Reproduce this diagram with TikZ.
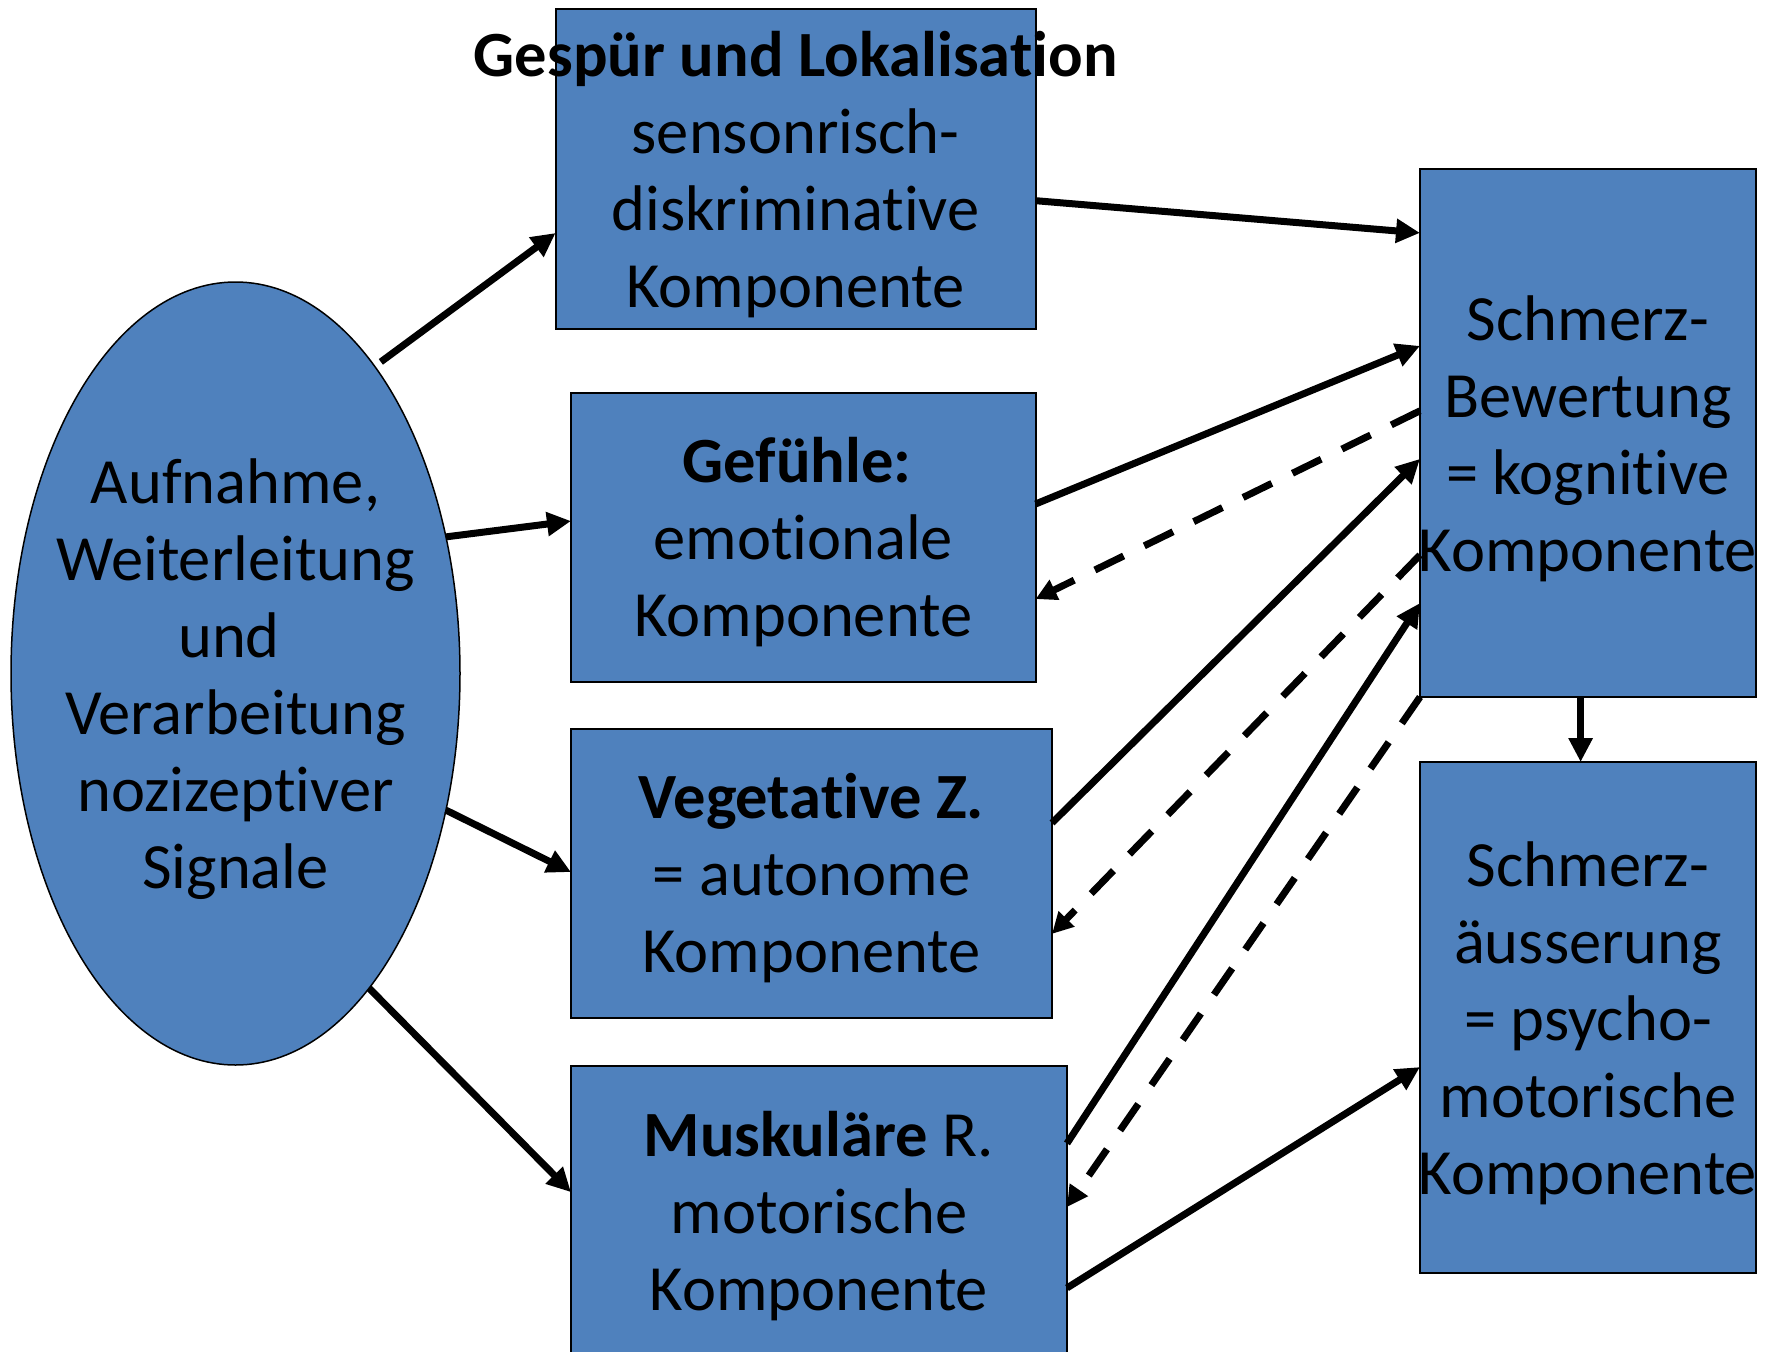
\documentclass[tikz,border=0pt]{standalone}
\usepackage{fontspec}
\setmainfont{Carlito}[Ligatures=NoCommon]
\usetikzlibrary{arrows.meta,calc,shapes.geometric}
\definecolor{boxblue}{HTML}{4F81BD}
\begin{document}
\begin{tikzpicture}[x=1pt,y=-1pt,
  box/.style={draw=black,line width=1.8pt,fill=boxblue,inner sep=0pt,outer sep=0pt},
  txt/.style={inner sep=0pt,outer sep=0pt,align=center,font=\fontsize{64.5}{77}\selectfont},
  sol/.style={line width=7pt,-{Triangle[length=24pt,width=23pt]}},
  dsh/.style={line width=7pt,dash pattern=on 32pt off 23pt,-{Triangle[length=21pt,width=21pt]}},
]
\useasboundingbox (0,0) rectangle (1767,1352);
\node[draw=black,fill=boxblue,ellipse,minimum width=449pt,minimum height=783pt,inner sep=0pt,outer sep=0pt,line width=1.5pt] (ell) at (235.5,673.5) {};
\node[txt] (elltext) at ([yshift=-6pt]ell.center)
  {Aufnahme,\\Weiterleitung\\und\rule{13pt}{0pt}\\Verarbeitung\\nozizeptiver\\Signale};

\node[box,minimum width=480pt,minimum height=320pt] (box1) at (795.6,169) {};
\node[box,minimum width=464.6pt,minimum height=289pt] (box2) at (803.3,537.5) {};
\node[box,minimum width=481pt,minimum height=289pt] (box3) at (811.5,873.5) {};
\node[box,minimum width=496pt,minimum height=292pt] (box4) at (819,1212) {};
\node[box,minimum width=336pt,minimum height=528pt] (box5) at (1588,433) {};
\node[box,minimum width=336pt,minimum height=511pt] (box6) at (1588,1017.5) {};

\node[txt] (t1) at ([yshift=-6pt]box1.center)
  {\makebox[0pt][c]{\bfseries Gespür und Lokalisation}\\sensonrisch-\\diskriminative\\Komponente};
\node[txt] (t2) at ([yshift=-5pt]box2.center)
  {\textbf{Gefühle:}\hspace*{12pt}\\emotionale\\Komponente};
\node[txt] (t3) at ([yshift=-5pt]box3.center)
  {\textbf{Vegetative Z.}\\= autonome\\Komponente};
\node[txt] (t4) at ([yshift=-4pt]box4.center)
  {\textbf{Muskuläre} R.\\motorische\\Komponente};
\node[txt] (t5) at ([yshift=-6pt]box5.center)
  {Schmerz-\\Bewertung\\= kognitive\\Komponente};
\node[txt] (t6) at ([yshift=-6pt]box6.center)
  {Schmerz-\\äusserung\\= psycho-\\motorische\\Komponente};

\draw[sol] ($(ell.center)!1.026!(ell.65)$) -- ($(box1.north west)!0.70!(box1.south west)$);
\draw[sol] (ell.33) -- ($(box2.north west)!0.443!(box2.south west)$);
\draw[sol] (ell.-33) -- ($(box3.north west)!0.495!(box3.south west)$);
\draw[sol] (ell.-67.6) -- ($(box4.north west)!0.432!(box4.south west)$);
\draw[sol] ($(box1.north east)!0.599!(box1.south east)$) -- ($(box5.north west)!0.121!(box5.south west)$);
\draw[sol] ($(box2.north east)!0.384!(box2.south east)$) -- ($(box5.north west)!0.335!(box5.south west)$);
\draw[dsh] ($(box5.north west)!0.458!(box5.south west)$) -- ($(box2.north east)!0.713!(box2.south east)$);
\draw[sol] ($(box3.north east)!0.325!(box3.south east)$) -- ($(box5.north west)!0.549!(box5.south west)$);
\draw[dsh] ($(box5.north west)!0.731!(box5.south west)$) -- ($(box3.north east)!0.709!(box3.south east)$);
\draw[sol] ($(box4.north east)!0.265!(box4.south east)$) -- ($(box5.north west)!0.822!(box5.south west)$);
\draw[dsh] (box5.south west) -- ($(box4.north east)!0.483!(box4.south east)$);
\draw[sol] ($(box4.north east)!0.760!(box4.south east)$) -- ($(box6.north west)!0.597!(box6.south west)$);
\draw[sol] ($(box5.south west)!0.478!(box5.south east)$) -- ($(box6.north west)!0.478!(box6.north east)$);
\end{tikzpicture}
\end{document}
